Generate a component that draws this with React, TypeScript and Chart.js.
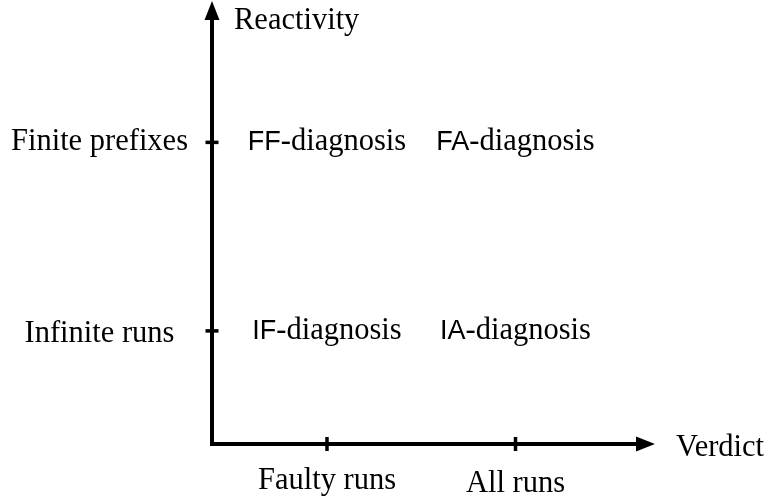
import React, { useEffect, useRef } from "react";
import { Chart, registerables } from "chart.js";

Chart.register(...registerables);

// ---- data ----
const verdictCategories = ["Faulty runs", "All runs"];
const verdictValues = [1, 2];
const reactivityCategories = ["Infinite runs", "Finite prefixes"];
const reactivityValues = [1, 2];
const infiniteRowPrefixes = ["IF", "IA"];
const finiteRowPrefixes = ["FF", "FA"];
const cellSuffix = "-diagnosis";
const xAxisTitle = "Verdict";
const yAxisTitle = "Reactivity";

const SERIF_FAMILY = '"Liberation Serif", "Times New Roman", serif';
const SANS_FAMILY = '"Liberation Sans", Arial, sans-serif';

type Part = { text: string; family: string; size: number };

function drawParts(
  ctx: CanvasRenderingContext2D,
  parts: Part[],
  x: number,
  cy: number,
  align: "left" | "center"
) {
  let total = 0;
  let asc = 0;
  let desc = 0;
  const widths: number[] = [];
  for (const p of parts) {
    ctx.font = `${p.size}px ${p.family}`;
    const m = ctx.measureText(p.text);
    widths.push(m.width);
    total += m.width;
    asc = Math.max(asc, m.actualBoundingBoxAscent);
    desc = Math.max(desc, m.actualBoundingBoxDescent);
  }
  const baseline = cy + (asc - desc) / 2;
  let cx = align === "center" ? x - total / 2 : x;
  ctx.textAlign = "left";
  ctx.textBaseline = "alphabetic";
  ctx.fillStyle = "#000";
  for (let i = 0; i < parts.length; i++) {
    const p = parts[i];
    ctx.save();
    ctx.font = `${p.size}px ${p.family}`;
    ctx.fillText(p.text, cx, baseline);
    ctx.restore();
    cx += widths[i];
  }
}

const SERIF_SIZE = 30.5;
const SANS_SIZE = 27;

const diagramPlugin = {
  id: "diagram",
  afterDatasetsDraw(chart: any) {
    const ctx: CanvasRenderingContext2D = chart.ctx;
    const xs = chart.scales.x;
    const ys = chart.scales.y;
    const ox = xs.getPixelForValue(xs.min);
    const oy = ys.getPixelForValue(ys.min);
    const tipX = xs.getPixelForValue(xs.max);
    const tipY = ys.getPixelForValue(ys.max);
    const headLen = 19;
    const headHalf = 7.5;

    ctx.save();
    ctx.strokeStyle = "#000";
    ctx.fillStyle = "#000";
    // axes
    ctx.lineWidth = 4;
    ctx.lineJoin = "miter";
    ctx.lineCap = "butt";
    ctx.beginPath();
    ctx.moveTo(ox, tipY + headLen - 2);
    ctx.lineTo(ox, oy);
    ctx.lineTo(tipX - headLen + 2, oy);
    ctx.stroke();
    // arrow heads
    ctx.beginPath();
    ctx.moveTo(ox, tipY);
    ctx.lineTo(ox + headHalf, tipY + headLen);
    ctx.lineTo(ox - headHalf, tipY + headLen);
    ctx.closePath();
    ctx.fill();
    ctx.beginPath();
    ctx.moveTo(tipX, oy);
    ctx.lineTo(tipX - headLen, oy - headHalf);
    ctx.lineTo(tipX - headLen, oy + headHalf);
    ctx.closePath();
    ctx.fill();

    // ticks
    ctx.lineWidth = 3.5;
    verdictValues.forEach((v) => {
      const px = xs.getPixelForValue(v);
      ctx.beginPath();
      ctx.moveTo(px, oy - 7);
      ctx.lineTo(px, oy + 7);
      ctx.stroke();
    });
    reactivityValues.forEach((v) => {
      const py = ys.getPixelForValue(v);
      ctx.beginPath();
      ctx.moveTo(ox - 6.5, py);
      ctx.lineTo(ox + 6.5, py);
      ctx.stroke();
    });
    ctx.restore();

    const serif = (text: string): Part => ({ text, family: SERIF_FAMILY, size: SERIF_SIZE });
    const sans = (text: string): Part => ({ text, family: SANS_FAMILY, size: SANS_SIZE });

    // tick labels
    verdictValues.forEach((v, i) => {
      drawParts(ctx, [serif(verdictCategories[i])], xs.getPixelForValue(v), oy + 37, "center");
    });
    reactivityValues.forEach((v, i) => {
      drawParts(ctx, [serif(reactivityCategories[i])], ox - 112.5, ys.getPixelForValue(v), "center");
    });

    // axis titles
    drawParts(ctx, [serif(yAxisTitle)], ox + 22, tipY + 21, "left");
    drawParts(ctx, [serif(xAxisTitle)], tipX + 21, oy, "left");

    // cell labels from the dataset points
    const meta = chart.getDatasetMeta(0);
    const ds = chart.data.datasets[0];
    meta.data.forEach((el: any, i: number) => {
      const raw = ds.data[i];
      drawParts(ctx, [sans(raw.label), serif(cellSuffix)], el.x, el.y, "center");
    });
  },
};

export default function App() {
  const ref = useRef<HTMLCanvasElement | null>(null);
  useEffect(() => {
    if (!ref.current) return;
    const points: any[] = [];
    verdictValues.forEach((xv, i) => {
      points.push({ x: xv, y: reactivityValues[0], label: infiniteRowPrefixes[i] });
      points.push({ x: xv, y: reactivityValues[1], label: finiteRowPrefixes[i] });
    });
    const chart = new Chart(ref.current, {
      type: "scatter",
      data: {
        datasets: [
          {
            data: points,
            pointRadius: 0,
            pointHoverRadius: 0,
          },
        ],
      },
      options: {
        animation: false,
        responsive: false,
        devicePixelRatio: 1,
        layout: { padding: { left: 212, right: 112, top: 1, bottom: 57 } },
        plugins: { legend: { display: false }, tooltip: { enabled: false }, title: { display: false } },
        events: [],
        scales: {
          x: { type: "linear", min: 0.39, max: 2.74, display: false },
          y: { type: "linear", min: 0.4, max: 2.75, display: false },
        },
      },
      plugins: [diagramPlugin],
    });
    return () => chart.destroy();
  }, []);
  return (
    <div style={{ position: "fixed", left: 0, top: 0, width: 767, height: 501, background: "#fff" }}>
      <canvas ref={ref} width={767} height={501} />
    </div>
  );
}
